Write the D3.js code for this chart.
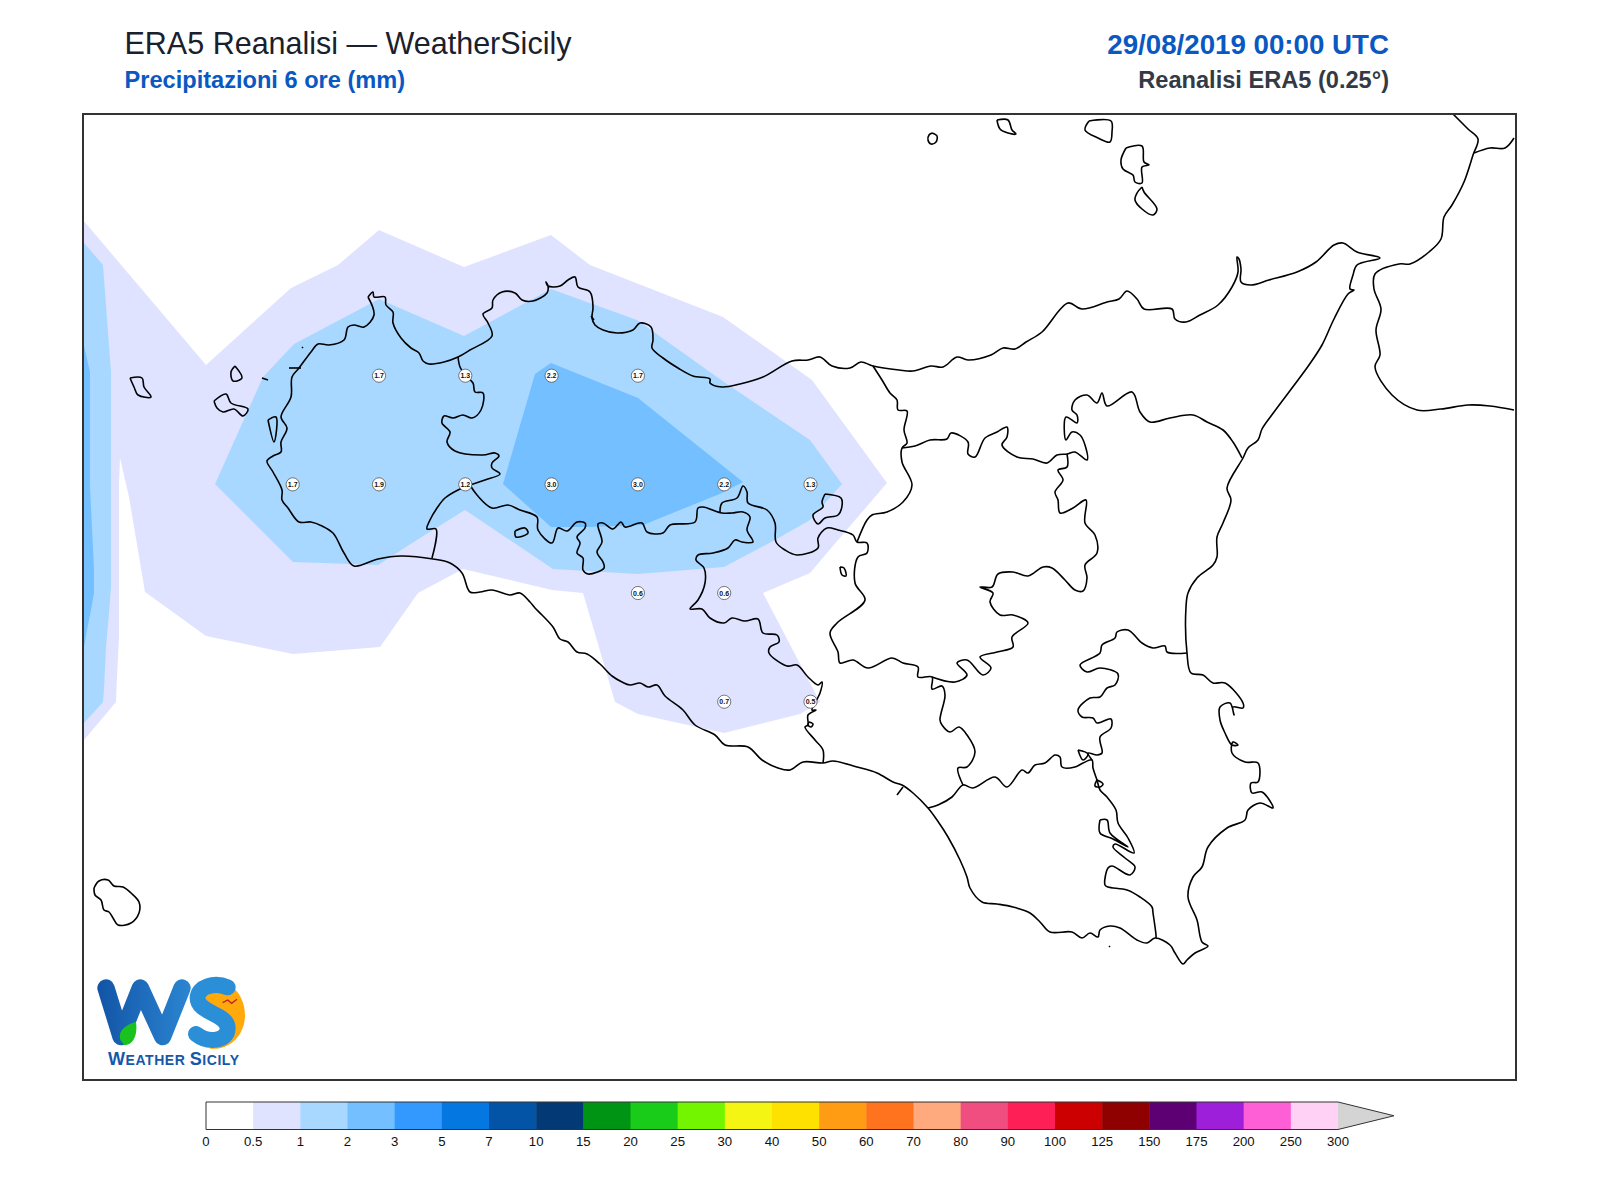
<!DOCTYPE html>
<html><head><meta charset="utf-8">
<script src="https://cdn.jsdelivr.net/npm/d3@7"></script>
<style>html,body{margin:0;padding:0;background:#fff}svg{display:block}text{font-family:"Liberation Sans",Arial,sans-serif}</style>
</head><body><svg id="c" width="1600" height="1200"></svg>
<script>
// ---------- colour scale ----------
const levels = [0,0.5,1,2,3,5,7,10,15,20,25,30,40,50,60,70,80,90,100,125,150,175,200,250,300];
const levelColors = ['#ffffff','#e0e3ff','#a8d8ff','#73bfff','#3399ff','#0577e0','#0353a6','#033a75','#009414','#19cc19','#73f500','#f5f514','#ffe100','#ff9c14','#ff731f','#ffa97f','#f04d80','#ff1f57','#cc0000','#8f0000','#5c0073','#9e1fd9','#ff5fd6','#ffd1f5'];
const overColor = '#d4d4d4';

// ---------- grid-point values ----------
const stationLon = [12.75,13,13.25,13.5, 12.5,12.75,13,13.25,13.5,13.75,14, 13.5,13.75, 13.75,14];
const stationLat = [38,38,38,38, 37.75,37.75,37.75,37.75,37.75,37.75,37.75, 37.5,37.5, 37.25,37.25];
const stationVal = [1.7,1.3,2.2,1.7, 1.7,1.9,1.2,3.0,3.0,2.2,1.3, 0.6,0.6, 0.7,0.5];

// ---------- filled contour bands, in map-grid units ----------
const band05 = [[2,108],[125,253],[210,176],[257,153],[298,118],[383,155],[470,123],[509,153],[642,205],[731,268],[806,371],[757,428],[729,461],[682,481],[739,590],[719,602],[643,621],[557,602],[534,590],[502,481],[471,478],[382,457],[337,481],[299,535],[212,542],[125,524],[64,480],[48,385],[39,346],[38,371],[38,525],[36,565],[35,590],[3,628],[2,628]];
const band1a = [[134,372],[182,265],[213,232],[298,187],[383,224],[470,177],[556,208],[643,270],[729,328],[761,372],[729,408],[694,428],[643,455],[557,462],[472,457],[384,398],[339,426],[297,453],[212,450]];
const band1b = [[3,131],[22,153],[30,260],[30,475],[28,501],[25,535],[23,578],[22,590],[3,611]];
const band2a = [[454,262],[470,251],[557,286],[662,370],[641,381],[562,413],[506,415],[470,415],[422,372]];
const band2b = [[3,234],[9,260],[9,375],[13,458],[13,481],[10,498],[6,518],[3,535]];

// ---------- coastlines and boundaries, in map-grid units ----------
const northCoast = [[287,185],[292,180],[293,185],[304,185],[305,193],[312,200],[312,211],[320,226],[330,236],[338,241],[342,249],[348,252],[363,250],[377,245],[389,238],[411,224],[407,211],[402,202],[411,196],[412,188],[421,180],[434,181],[441,188],[452,189],[466,181],[467,174],[465,170],[467,174],[479,174],[487,168],[494,165],[497,175],[509,180],[512,195],[511,206],[514,213],[522,218],[536,221],[552,218],[559,211],[570,215],[572,228],[571,236],[582,246],[597,256],[612,264],[629,267],[629,271],[641,275],[659,272],[682,265],[711,249],[727,248],[739,245],[751,254],[769,256],[780,250],[792,254],[818,258],[832,259],[850,254],[862,255],[876,245],[887,248],[910,243],[922,236],[934,237],[945,230],[961,220],[987,191],[1001,197],[1026,190],[1038,187],[1046,179],[1056,187],[1063,197],[1091,197],[1094,207],[1105,210],[1119,203],[1137,193],[1151,175],[1157,160],[1156,145],[1158,147],[1160,157],[1160,170],[1170,173],[1188,168],[1216,160],[1235,150],[1253,133],[1262,131],[1276,140],[1299,146],[1276,153],[1272,163],[1269,177],[1273,178],[1267,182],[1253,207],[1241,233],[1228,253],[1193,300],[1181,317],[1177,328],[1167,336],[1162,346],[1146,376],[1150,388],[1142,411],[1136,425],[1136,445],[1132,453],[1116,466],[1107,481],[1105,495],[1106,541],[1110,561],[1122,563],[1132,571],[1144,571],[1162,591],[1162,596],[1152,595],[1153,603],[1149,591],[1139,595],[1139,608],[1144,621],[1151,633],[1157,633],[1152,630],[1151,641],[1164,650],[1177,651],[1177,670],[1170,671],[1171,681],[1181,680],[1192,696],[1179,691],[1167,698],[1164,708],[1146,716],[1127,735],[1121,755],[1112,765],[1107,785],[1116,808],[1121,830],[1127,834],[1114,841],[1106,848],[1102,852],[1094,841],[1089,833],[1074,826],[1066,831],[1056,828],[1039,816],[1029,814],[1019,818],[1017,825],[1009,821],[1001,826],[991,820],[969,820],[959,810],[949,801],[932,795],[916,792],[901,790],[889,776],[886,765],[879,748],[867,725],[856,708],[847,696],[832,681],[821,673],[812,670],[796,661],[776,655],[752,649],[742,651],[722,650],[709,658],[697,656],[681,648],[667,635],[644,633],[634,623],[614,613],[602,598],[584,584],[576,573],[567,575],[559,571],[549,573],[541,570],[531,564],[519,552],[506,542],[496,540],[487,530],[479,527],[472,515],[461,503],[454,496],[449,490],[439,481],[429,483],[411,478],[399,480],[389,480],[381,461],[369,451],[352,447],[320,444],[297,447],[273,454],[263,441],[252,421],[241,414],[230,410],[218,410],[207,396],[201,388],[201,378],[192,360],[186,349],[192,344],[200,340],[200,330],[206,316],[200,305],[210,285],[211,265],[218,256],[230,240],[237,232],[248,233],[263,228],[267,215],[273,213],[283,215],[293,203],[287,185]];
const innerSE = [[1075,826],[1075,823],[1072,801],[1071,795],[1059,785],[1046,778],[1027,775],[1024,773],[1027,756],[1031,754],[1049,763],[1054,755],[1044,746],[1032,735],[1034,732],[1053,741],[1047,726],[1037,711],[1035,698],[1026,685],[1019,678],[1016,668],[1012,656],[1011,648],[1002,651],[994,655],[981,655],[979,645],[974,643],[964,651],[954,653],[947,661],[941,658],[926,675],[914,665],[892,676],[882,673],[871,685],[857,693],[847,696]];
const centreA = [[882,673],[877,656],[886,655],[894,640],[886,623],[878,615],[869,620],[861,613],[859,608],[864,583],[861,574],[851,577],[851,565],[837,565],[837,555],[822,551],[811,546],[787,556],[772,548],[759,551],[757,540],[749,521],[756,511],[784,488],[774,471],[777,445],[786,441],[786,431],[776,430],[772,423],[757,418],[746,416],[737,426],[737,436],[716,443],[704,438],[695,430],[694,411],[686,398],[667,391],[666,380],[662,374],[656,386],[641,391],[639,401]];
const centreB = [[776,430],[786,408],[791,403],[806,400],[822,390],[831,373],[821,350],[821,336],[826,331],[823,318],[826,299],[817,298],[816,288],[809,281],[801,268],[792,254]];
const centreC = [[821,336],[834,334],[849,328],[866,327],[870,321],[887,330],[887,342],[894,345],[904,326],[916,320],[926,315],[926,325],[921,333],[936,345],[952,347],[966,351],[976,343],[986,342],[994,340],[1006,348],[1004,333],[999,323],[991,320],[985,328],[985,305],[996,311],[996,303],[991,298],[994,288],[1006,283],[1016,291],[1021,281],[1026,294],[1051,280],[1059,300],[1069,310],[1089,306],[1112,303],[1126,310],[1142,318],[1152,330],[1161,346]];
const centreD = [[986,342],[986,355],[977,358],[982,368],[974,380],[977,388],[979,401],[992,396],[1005,388],[1004,411],[1014,423],[1016,441],[1004,453],[1006,466],[1002,479],[994,478],[984,468],[971,456],[962,455],[947,464],[932,460],[917,462],[911,475],[899,475],[912,481],[909,490],[919,503],[932,503],[947,511],[931,525],[932,535],[916,540],[899,545],[910,556],[902,563],[886,548],[876,551],[886,563],[874,570],[851,565]];
const centreE = [[1106,541],[1086,540],[1084,534],[1072,536],[1061,531],[1047,518],[1036,520],[1034,526],[1021,533],[1019,541],[999,553],[1006,560],[1019,556],[1037,562],[1034,573],[1026,576],[1019,585],[1009,586],[997,598],[1001,605],[1012,606],[1016,611],[1030,607],[1030,616],[1019,625],[1021,641],[1016,643],[1007,641],[1011,648]];
const westA = [[377,245],[379,255],[384,263],[392,271],[394,280],[402,281],[400,298],[391,306],[382,303],[372,306],[363,304],[361,311],[369,320],[366,330],[374,339],[402,343],[414,341],[418,344],[411,351],[411,356],[419,362],[404,368],[389,373],[377,378],[364,386],[356,396],[349,408],[346,417],[355,417],[351,446]];
const westB = [[389,373],[396,383],[411,396],[427,393],[439,398],[456,405],[457,418],[471,431],[477,416],[486,419],[496,410],[504,411],[504,416],[496,425],[499,431],[496,441],[502,446],[502,458],[507,462],[523,456],[522,450],[516,440],[521,430],[517,412],[522,411],[532,417],[540,410],[544,415],[561,411],[566,420],[582,421],[589,413],[614,410],[617,396],[622,395],[641,401],[651,401],[662,400],[669,405],[666,418],[672,430],[661,430],[654,428],[647,436],[632,441],[617,443],[615,448],[623,456],[624,471],[617,488],[609,497],[621,497],[629,506],[643,511],[651,506],[664,509],[677,507],[682,521],[696,523],[698,530],[689,535],[688,541],[706,554],[716,553],[727,565],[737,573],[741,570],[739,581],[731,598],[735,598],[727,603],[727,613],[724,615],[734,628],[742,638],[742,651]];
const tickMark = [[816,683],[822,675]];
const calabria = [[1372,2],[1387,17],[1397,27],[1392,43],[1383,70],[1371,93],[1363,105],[1360,127],[1348,140],[1329,152],[1318,152],[1294,162],[1293,177],[1300,197],[1295,218],[1299,243],[1294,255],[1311,283],[1336,298],[1360,297],[1387,293],[1409,294],[1433,298]];
const calabriaTop = [[1393,41],[1409,36],[1424,36],[1433,26]];
const marettimo = [[49,266],[61,266],[63,275],[70,285],[57,283],[53,275],[49,266]];
const levanzo = [[154,254],[161,266],[152,269],[150,260],[154,254]];
const favignana = [[133,289],[145,282],[150,291],[167,297],[162,304],[153,297],[142,300],[136,296],[133,289]];
const pantelleria = [[13,776],[18,769],[27,768],[33,774],[42,775],[50,781],[58,790],[58,801],[50,811],[37,813],[32,806],[28,800],[23,798],[20,788],[14,783],[13,776]];
const alicudi = [[851,21],[856,24],[855,30],[850,32],[847,28],[848,23],[851,21]];
const filicudi = [[916,8],[927,8],[931,18],[935,22],[927,21],[919,17],[916,8]];
const salina = [[1008,9],[1030,9],[1031,20],[1029,30],[1017,26],[1004,18],[1008,9]];
const lipari = [[1045,36],[1061,34],[1063,50],[1068,53],[1061,55],[1061,71],[1054,70],[1052,63],[1042,57],[1040,48],[1045,36]];
const vulcano = [[1061,75],[1063,80],[1076,97],[1072,103],[1061,97],[1054,88],[1056,81],[1061,75]];
const stagnone = [[187,308],[195,305],[193,330],[187,308]];
const loopA = [[744,382],[760,386],[761,394],[757,403],[744,406],[737,412],[732,403],[742,395],[741,390],[744,382]];
const loopB = [[434,419],[444,416],[447,421],[435,425],[434,419]];
const loopC = [[759,455],[763,456],[765,464],[761,463],[759,455]];
const loopD = [[997,638],[1002,648],[1007,642],[997,638]];
const loopE = [[1016,668],[1022,672],[1019,675],[1014,674],[1016,668]];
const loopF = [[1019,708],[1026,708],[1029,721],[1047,735],[1032,727],[1019,721],[1019,708]];
const loopG = [[728,610],[732,612],[730,615],[727,613],[728,610]];
const specks = [[[208,256],[220,256]],[[181,266],[187,268]],[[221,235],[222,236]],[[510,204],[513,208]],[[1028,834],[1029,835]]];

// ---------- scales ----------
const frame = {x0:83,x1:1516,y0:114,y1:1080};
const mapX = d3.scaleLinear().domain([0,1435]).range([81,1516]);
const mapY = d3.scaleLinear().domain([0,968]).range([112,1080]);
const lonX = d3.scaleLinear().domain([12.5,14]).range([292.7,810.5]);
const latY = d3.scaleLinear().domain([38,37.25]).range([375.7,701.7]);
const colorOf = d3.scaleThreshold().domain(levels.slice(1,-1)).range(levelColors);
const path = d3.line().x(d=>mapX(d[0])).y(d=>mapY(d[1]));
const coastPath = d3.line().x(d=>mapX(d[0])).y(d=>mapY(d[1])).curve(d3.curveCatmullRom.alpha(0.5));

const svg = d3.select('#c');
const defs = svg.append('defs');
defs.append('clipPath').attr('id','fr').append('rect')
  .attr('x',frame.x0).attr('y',frame.y0).attr('width',frame.x1-frame.x0).attr('height',frame.y1-frame.y0);
const map = svg.append('g').attr('clip-path','url(#fr)');

// contour bands
[[band05,0.7],[band1a,1.5],[band1b,1.5],[band2a,2.5],[band2b,2.5]].forEach(([poly,v])=>{
  map.append('path').attr('d',path(poly)+'Z').attr('fill',colorOf(v));
});
// coast
[northCoast,innerSE,centreA,centreB,centreC,centreD,centreE,westA,westB,tickMark,calabria,calabriaTop,
 marettimo,levanzo,favignana,pantelleria,alicudi,filicudi,salina,lipari,vulcano,stagnone,loopA,loopB,loopC,loopD,loopE,loopF,loopG,...specks]
 .forEach(l=>map.append('path').attr('d',coastPath(l)).attr('fill','none').attr('stroke','#000')
   .attr('stroke-width',1.6).attr('stroke-linejoin','round'));

// grid points
const st = svg.append('g').selectAll('g').data(stationVal).join('g')
  .attr('transform',(d,i)=>`translate(${lonX(stationLon[i])},${latY(stationLat[i])})`);
st.append('circle').attr('r',6.6).attr('fill','#fff').attr('stroke','#555').attr('stroke-width',0.8);
st.append('text').attr('text-anchor','middle').attr('y',2.5).attr('font-size',7).attr('font-weight','bold')
  .attr('fill','#111').text(d=>d.toFixed(1));

// frame
svg.append('rect').attr('x',frame.x0).attr('y',frame.y0).attr('width',frame.x1-frame.x0).attr('height',frame.y1-frame.y0)
  .attr('fill','none').attr('stroke','#333').attr('stroke-width',2);

// titles
const t = (x,y,s,size,w,fill,anchor)=>svg.append('text').attr('x',x).attr('y',y).attr('font-size',size)
  .attr('font-weight',w).attr('fill',fill).attr('text-anchor',anchor||'start').text(s);
t(124.5,54,'ERA5 Reanalisi — WeatherSicily',30.5,'normal','#1a202c');
t(124.5,88,'Precipitazioni 6 ore (mm)',23.6,'bold','#0a58c2');
t(1389,54,'29/08/2019 00:00 UTC',27.7,'bold','#0a58c2','end');
t(1389,88,'Reanalisi ERA5 (0.25°)',23.6,'bold','#333a45','end');

// colour bar
const cb = d3.scalePoint().domain(levels.map(String)).range([206,1338]);
const cbTop = 1102, cbBot = 1129.5;
const cbg = svg.append('g');
cbg.selectAll('rect').data(levelColors).join('rect')
  .attr('x',(d,i)=>cb(String(levels[i]))).attr('y',cbTop)
  .attr('width',cb.step()+0.5).attr('height',cbBot-cbTop).attr('fill',d=>d);
cbg.append('path').attr('d',`M1338,${cbTop}L1394,${(cbTop+cbBot)/2}L1338,${cbBot}Z`).attr('fill',overColor);
cbg.append('path').attr('d',`M1338,${cbTop}L206,${cbTop}L206,${cbBot}L1338,${cbBot}L1394,${(cbTop+cbBot)/2}Z`)
  .attr('fill','none').attr('stroke','#333').attr('stroke-width',1);
cbg.selectAll('text').data(levels).join('text').attr('x',d=>cb(String(d))).attr('y',1145.5)
  .attr('text-anchor','middle').attr('font-size',13.2).attr('fill','#111').text(d=>d);

// logo
const logo = svg.append('g').attr('transform','translate(81,850) scale(0.3333)');
const gr = defs.append('linearGradient').attr('id','wg').attr('gradientUnits','userSpaceOnUse')
  .attr('x1',50).attr('x2',330).attr('y1',0).attr('y2',0);
gr.append('stop').attr('offset',0).attr('stop-color','#1254a6');
gr.append('stop').attr('offset',1).attr('stop-color','#2b86d2');
logo.append('path').attr('d','M75,414 L120,560 L178,414 L245,560 L303,414').attr('fill','none')
  .attr('stroke','url(#wg)').attr('stroke-width',52).attr('stroke-linejoin','round').attr('stroke-linecap','round');
logo.append('path').attr('d','M375,440 C390,420 430,425 445,405 C490,430 505,500 480,545 C460,585 420,600 385,596 L430,560 C470,520 440,490 400,475 C380,465 372,452 375,440Z').attr('fill','#ffa90a');
logo.append('path').attr('d','M440,412 C400,395 350,410 350,445 C350,490 440,490 440,535 C440,575 380,580 345,552')
  .attr('fill','none').attr('stroke','#2a8fd6').attr('stroke-width',48).attr('stroke-linecap','round');
logo.append('path').attr('d','M118,570 C110,540 135,525 165,515 C170,550 160,585 130,585Z').attr('fill','#19c21f');
logo.append('path').attr('d','M425,458 L440,450 L452,460 L468,448').attr('fill','none').attr('stroke','#c0202a').attr('stroke-width',4);
const lt = svg.append('text').attr('x',108).attr('y',1065).attr('font-weight','bold').attr('fill','#1558a8').attr('textLength',131);
lt.append('tspan').attr('font-size',18).text('W');
lt.append('tspan').attr('font-size',14).text('EATHER ');
lt.append('tspan').attr('font-size',18).text('S');
lt.append('tspan').attr('font-size',14).text('ICILY');
</script></body></html>
